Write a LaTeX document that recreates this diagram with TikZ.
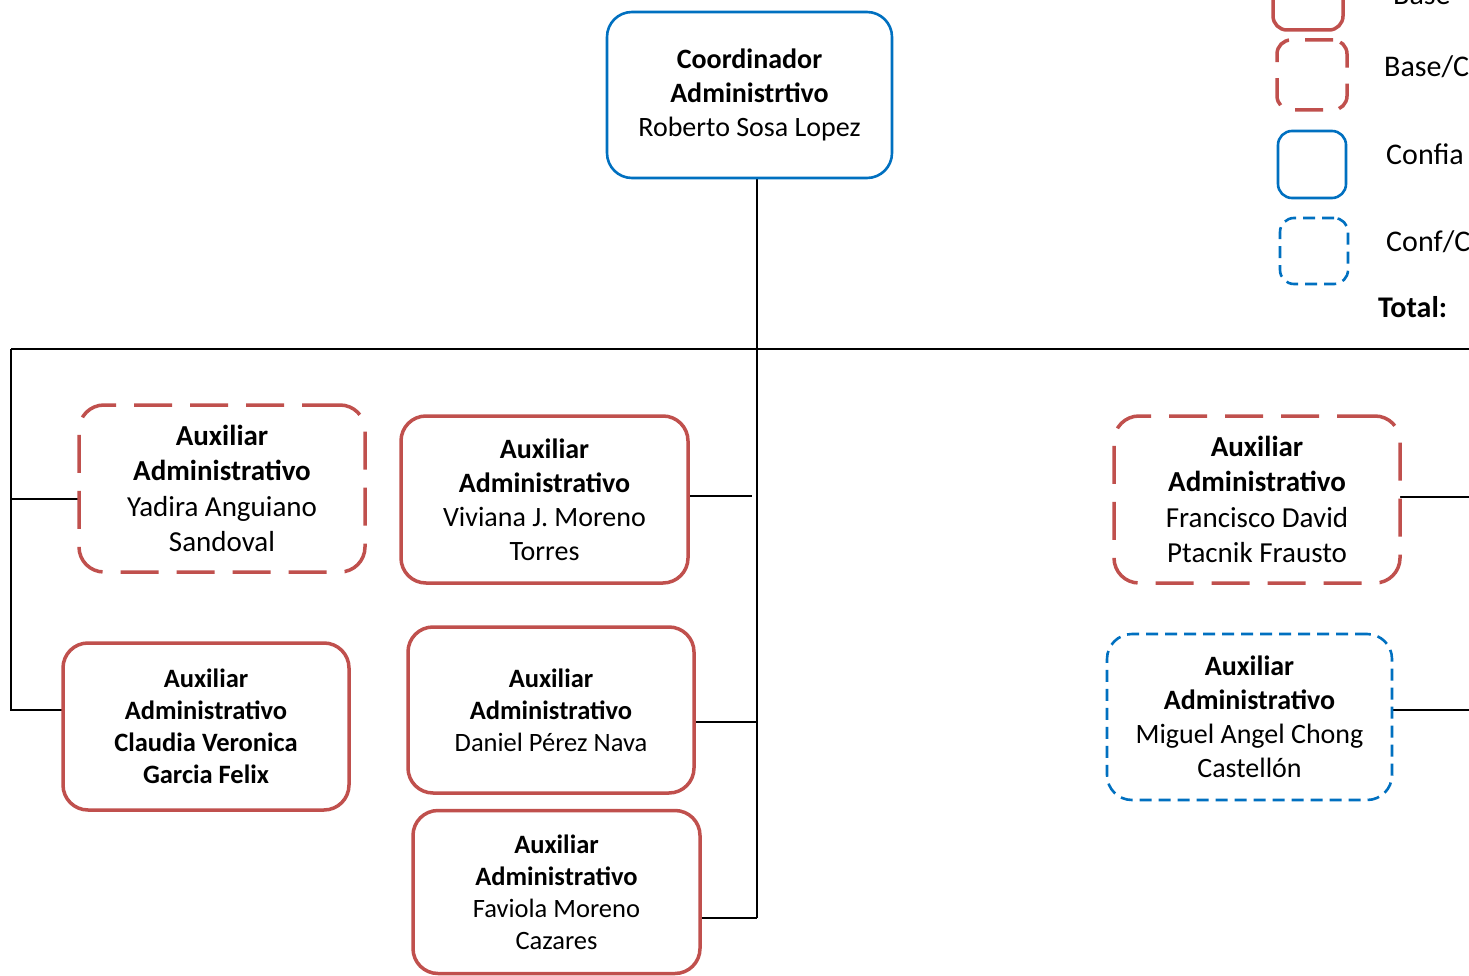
\documentclass[tikz,border=0pt]{standalone}
\usepackage{fontspec}
\setmainfont{Carlito}
\definecolor{basered}{HTML}{C0504D}
\definecolor{confblue}{HTML}{0070C0}
\tikzset{
  x=1pt, y=-1pt,
  box/.style={draw, rounded corners=25pt, align=center, inner sep=0pt, fill=white},
  redsolid/.style={box, draw=basered, line width=3.5pt},
  reddash/.style={box, draw=basered, line width=3.5pt, dash pattern=on 38pt off 18pt},
  bluesolid/.style={box, draw=confblue, line width=2.6pt},
  bluedash/.style={box, draw=confblue, line width=2.6pt, dash pattern=on 12pt off 7pt},
  conn/.style={draw=black, line width=2pt},
  fa/.style={font=\fontsize{28}{34}\selectfont},
  fb/.style={font=\fontsize{29}{35.5}\selectfont},
  fc/.style={font=\fontsize{26.5}{32}\selectfont},
  legtxt/.style={font=\fontsize{30}{36}\selectfont, anchor=base west, inner sep=0pt},
}
\begin{document}
\begin{tikzpicture}
\useasboundingbox (0,0) rectangle (1469,976);
\clip (0,0) rectangle (1469,976);
\fill[white] (0,0) rectangle (1469,976);

% connector coordinates
\coordinate (trunkT) at (757,178);
\coordinate (trunkB) at (757,918);
\coordinate (busL) at (11,349);
\coordinate (busR) at (1480,349);
\coordinate (yaL) at (79,499);
\coordinate (clL) at (63,710);
\coordinate (viR) at (688,496);
\coordinate (viE) at (752,496);
\coordinate (daR) at (694,722);
\coordinate (faR) at (700,918);
\coordinate (frR) at (1400,497);
\coordinate (frE) at (1480,497);
\coordinate (miR) at (1392,710);
\coordinate (miE) at (1480,710);

\draw[conn] (trunkT) -- (trunkB);
\draw[conn] (busL) -- (busR);
\draw[conn] (busL) |- (clL);
\draw[conn] (busL |- yaL) -- (yaL);
\draw[conn] (viR) -- (viE);
\draw[conn] (daR) -- (daR -| trunkT);
\draw[conn] (faR) -- (trunkB);
\draw[conn] (frR) -- (frE);
\draw[conn] (miR) -- (miE);

% boxes
\node[bluesolid, fa, minimum width=285pt, minimum height=166pt] (coord) at (749.5,95)
  {\textbf{Coordinador}\\\textbf{Administrtivo}\\Roberto Sosa Lopez};
\node[reddash, fb, minimum width=286pt, minimum height=167pt] (yadira) at (222,488.5)
  {\textbf{Auxiliar}\\\textbf{Administrativo}\\Yadira Anguiano\\Sandoval};
\node[redsolid, fa, minimum width=287pt, minimum height=167pt] (viviana) at (544.5,499.5)
  {\textbf{Auxiliar}\\\textbf{Administrativo}\\Viviana J. Moreno\\Torres};
\node[redsolid, fc, minimum width=286pt, minimum height=167pt] (claudia) at (206,726.5)
  {\textbf{Auxiliar}\\\textbf{Administrativo}\\\textbf{Claudia Veronica}\\\textbf{Garcia Felix}};
\node[redsolid, fc, minimum width=286pt, minimum height=166pt] (daniel) at (551,710)
  {\textbf{Auxiliar}\\\textbf{Administrativo}\\Daniel Pérez Nava};
\node[redsolid, fc, minimum width=287pt, minimum height=163pt] (faviola) at (556.5,892)
  {\textbf{Auxiliar}\\\textbf{Administrativo}\\Faviola Moreno\\Cazares};
\node[reddash, fb, minimum width=286pt, minimum height=167pt] (francisco) at (1257,499.5)
  {\textbf{Auxiliar}\\\textbf{Administrativo}\\Francisco David\\Ptacnik Frausto};
\node[bluedash, fa, minimum width=285pt, minimum height=166pt] (miguel) at (1249.5,717)
  {\textbf{Auxiliar}\\\textbf{Administrativo}\\Miguel Angel Chong\\Castellón};

% legend
\node[redsolid, rounded corners=14pt, minimum width=70pt, minimum height=70pt] (lgA) at (1308,-5) {};
\node[reddash, rounded corners=14pt, dash pattern=on 28pt off 16pt, minimum width=70pt, minimum height=70pt] (lgB) at (1312,75) {};
\node[bluesolid, rounded corners=14pt, minimum width=68pt, minimum height=67pt] (lgC) at (1312,164.5) {};
\node[bluedash, rounded corners=14pt, minimum width=68pt, minimum height=66pt] (lgD) at (1314,251) {};
\node[legtxt] (ltA) at (1393,5) {Base};
\node[legtxt] (ltB) at (1384,77) {Base/C};
\node[legtxt] (ltC) at (1386,165) {Confia};
\node[legtxt] (ltD) at (1386,252) {Conf/C};
\node[legtxt] (ltE) at (1378,317) {\textbf{Total:}};
\end{tikzpicture}
\end{document}
